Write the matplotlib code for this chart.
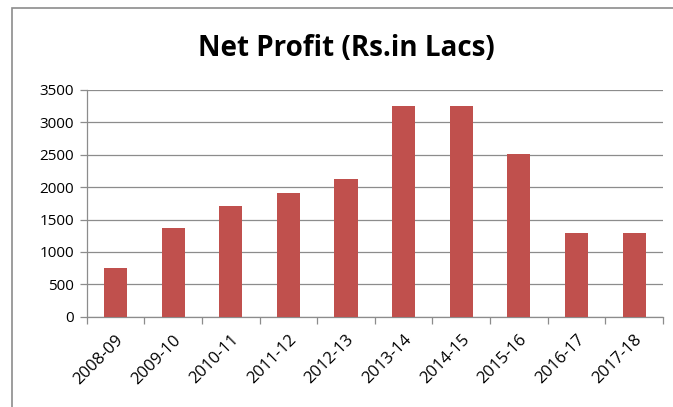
import matplotlib.pyplot as plt
import numpy as np
from matplotlib.patches import Rectangle

years = ['2008-09', '2009-10', '2010-11', '2011-12', '2012-13',
         '2013-14', '2014-15', '2015-16', '2016-17', '2017-18']
net_profit = [755, 1368, 1707, 1903, 2128, 3253, 3253, 2519, 1295, 1286]
yticks = [0, 500, 1000, 1500, 2000, 2500, 3000, 3500]

plt.rcParams['font.family'] = ['Open Sans', 'DejaVu Sans']

fig = plt.figure(figsize=(6.73, 4.07), dpi=100)
fig.patches.append(Rectangle((12/673, -0.1), 1.2, 1 - 8/407 + 0.1,
                             transform=fig.transFigure, fill=False,
                             edgecolor='#8c8c8c', lw=1.2))
ax = fig.add_axes([0.1288, 0.2219, 0.8562, 0.557])

x = np.arange(len(years))
ax.bar(x, net_profit, 0.4, color='#C0504D', zorder=3)
ax.set_xlim(-0.5, len(years) - 0.5)
ax.set_ylim(0, 3500)
ax.set_yticks(yticks)
ax.set_yticklabels([str(v) for v in yticks])
ax.yaxis.grid(True, color='#8c8c8c', lw=0.9, zorder=0)

ax.set_xticks(x)
ax.set_xticklabels(years, rotation=45, ha='right', rotation_mode='anchor')
ax.set_xticks(np.arange(-0.5, len(years)), minor=True)
ax.tick_params(axis='x', which='major', length=0, pad=11, labelsize=12)
ax.tick_params(axis='x', which='minor', length=5, color='#8c8c8c', width=0.9)
ax.tick_params(axis='y', length=5, color='#8c8c8c', width=0.9, labelsize=11, pad=4)

for s in ['top', 'right']:
    ax.spines[s].set_visible(False)
for s in ['left', 'bottom']:
    ax.spines[s].set_color('#8c8c8c')
    ax.spines[s].set_linewidth(0.9)

fig.text(0.515, 0.882, 'Net Profit (Rs.in Lacs)', ha='center', va='center',
         fontsize=20, fontweight='bold')

fig.savefig('out.png', dpi=100)
